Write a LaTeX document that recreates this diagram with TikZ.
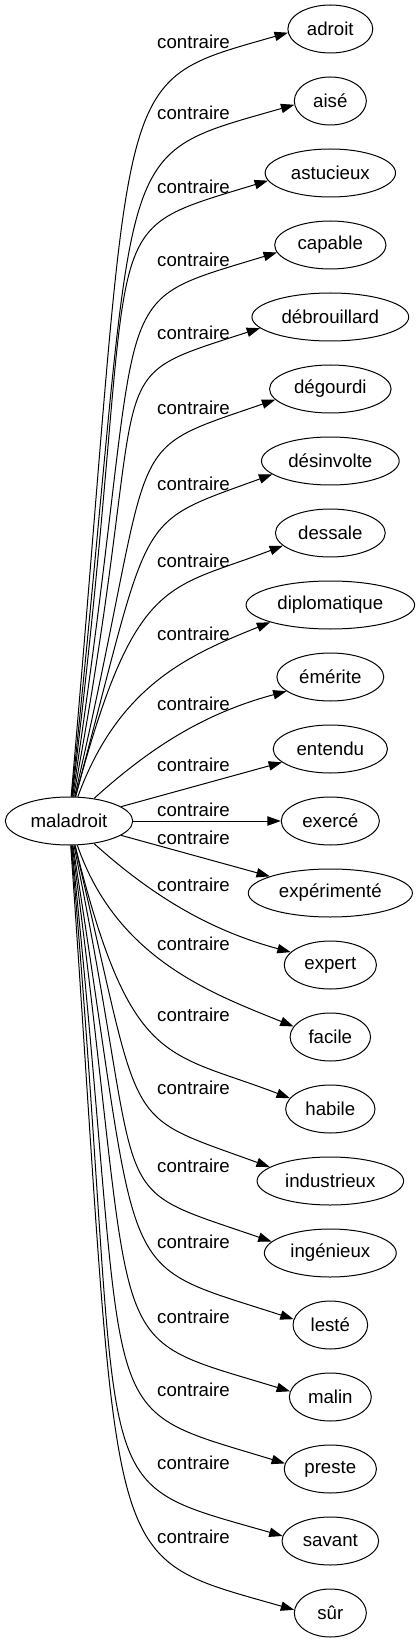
\documentclass[tikz,border=0pt]{standalone}
\usepackage{fontspec}
\setmainfont{Liberation Sans}
\usepackage{tikz}
\usetikzlibrary{shapes.geometric, arrows.meta, positioning}

\begin{document}
\begin{tikzpicture}[node distance=54pt,
    mot/.style={ellipse, draw, line width=0.75pt, inner xsep=5pt, inner ysep=2pt,
                minimum width=54pt, minimum height=36pt,
                font=\fontsize{14pt}{16pt}\selectfont},
    rel/.style={inner sep=0pt, font=\fontsize{14pt}{16pt}\selectfont},
    fleche/.style={line width=0.75pt, -{Triangle[length=10pt, width=7pt]}}]

\useasboundingbox (-51.75pt,-616.5pt) rectangle (261.75pt,615.75pt);

% Source word
\node[mot] (mal) at (0,0) {maladroit};

% Opposites, top to bottom
\node[mot] (adroit) at (196pt,594pt) {adroit};
\node[mot, below of=adroit] (aise) {aisé};
\node[mot, below of=aise] (astucieux) {astucieux};
\node[mot, below of=astucieux] (capable) {capable};
\node[mot, below of=capable] (debrouillard) {débrouillard};
\node[mot, below of=debrouillard] (degourdi) {dégourdi};
\node[mot, below of=degourdi] (desinvolte) {désinvolte};
\node[mot, below of=desinvolte] (dessale) {dessale};
\node[mot, below of=dessale] (diplomatique) {diplomatique};
\node[mot, below of=diplomatique] (emerite) {émérite};
\node[mot, below of=emerite] (entendu) {entendu};
\node[mot, below of=entendu] (exerce) {exercé};
\node[mot, below of=exerce] (experimente) {expérimenté};
\node[mot, below of=experimente] (expert) {expert};
\node[mot, below of=expert] (facile) {facile};
\node[mot, below of=facile] (habile) {habile};
\node[mot, below of=habile] (industrieux) {industrieux};
\node[mot, below of=industrieux] (ingenieux) {ingénieux};
\node[mot, below of=ingenieux] (leste) {lesté};
\node[mot, below of=leste] (malin) {malin};
\node[mot, below of=malin] (preste) {preste};
\node[mot, below of=preste] (savant) {savant};
\node[mot, below of=savant] (sur) {sûr};

% Edge labels
\node[rel] (r-adroit) at (93.4pt,584.25pt) {contraire};
\node[rel] (r-aise) at (93.4pt,531pt) {contraire};
\node[rel] (r-astucieux) at (93.4pt,475.5pt) {contraire};
\node[rel] (r-capable) at (93.4pt,420.75pt) {contraire};
\node[rel] (r-debrouillard) at (93.4pt,366pt) {contraire};
\node[rel] (r-degourdi) at (93.4pt,309.75pt) {contraire};
\node[rel] (r-desinvolte) at (93.4pt,252.75pt) {contraire};
\node[rel] (r-dessale) at (93.4pt,195pt) {contraire};
\node[rel] (r-diplomatique) at (93.4pt,140.25pt) {contraire};
\node[rel] (r-emerite) at (93.4pt,87.75pt) {contraire};
\node[rel] (r-entendu) at (93.4pt,42pt) {contraire};
\node[rel] (r-exerce) at (93.4pt,8.25pt) {contraire};
\node[rel] (r-experimente) at (93.4pt,-12.75pt) {contraire};
\node[rel] (r-expert) at (93.4pt,-48pt) {contraire};
\node[rel] (r-facile) at (93.4pt,-92.25pt) {contraire};
\node[rel] (r-habile) at (93.4pt,-145.5pt) {contraire};
\node[rel] (r-industrieux) at (93.4pt,-200.25pt) {contraire};
\node[rel] (r-ingenieux) at (93.4pt,-258.75pt) {contraire};
\node[rel] (r-leste) at (93.4pt,-315.75pt) {contraire};
\node[rel] (r-malin) at (93.4pt,-372pt) {contraire};
\node[rel] (r-preste) at (93.4pt,-426.75pt) {contraire};
\node[rel] (r-savant) at (93.4pt,-481.5pt) {contraire};
\node[rel] (r-sur) at (93.4pt,-537pt) {contraire};

% Edges going up
\draw[fleche] (mal) to[out=85, in=196, out distance=555pt, in distance=142.5pt] (adroit.185);
\draw[fleche] (mal) to[out=84, in=196, out distance=502.5pt, in distance=150pt] (aise.186);
\draw[fleche] (mal) to[out=83, in=197, out distance=450pt, in distance=146.25pt] (astucieux.187);
\draw[fleche] (mal) to[out=81.5, in=197, out distance=397.5pt, in distance=142.5pt] (capable.188);
\draw[fleche] (mal) to[out=79.5, in=198, out distance=341.25pt, in distance=135pt] (debrouillard.189);
\draw[fleche] (mal) to[out=77, in=199, out distance=285pt, in distance=127.5pt] (degourdi.191);
\draw[fleche] (mal) to[out=75, in=200, out distance=225pt, in distance=112.5pt] (desinvolte.193);
\draw[fleche] (mal) to[out=75, in=201, out distance=172.5pt, in distance=93.75pt] (dessale.195);
\draw[fleche] (mal) to[out=70, in=202, out distance=90pt, in distance=63.75pt] (diplomatique.196);
\draw[fleche] (mal) to[out=42, in=195, out distance=52.5pt, in distance=67.5pt] (emerite.198);

% Nearly straight ones
\draw[fleche] (mal) -- (entendu);
\draw[fleche] (mal) -- (exerce);
\draw[fleche] (mal) -- (experimente);

% Edges going down
\draw[fleche] (mal) to[out=-42, in=165, out distance=52.5pt, in distance=67.5pt] (expert.162);
\draw[fleche] (mal) to[out=-71, in=158, out distance=90pt, in distance=66pt] (facile.164);
\draw[fleche] (mal) to[out=-76, in=159, out distance=172.5pt, in distance=100pt] (habile.165);
\draw[fleche] (mal) to[out=-76.5, in=160, out distance=225pt, in distance=122pt] (industrieux.167);
\draw[fleche] (mal) to[out=-78.5, in=161, out distance=285pt, in distance=138pt] (ingenieux.169);
\draw[fleche] (mal) to[out=-81, in=162, out distance=341.25pt, in distance=146pt] (leste.171);
\draw[fleche] (mal) to[out=-82.5, in=163, out distance=397.5pt, in distance=154pt] (malin.172);
\draw[fleche] (mal) to[out=-84, in=163, out distance=450pt, in distance=158pt] (preste.173);
\draw[fleche] (mal) to[out=-85, in=164, out distance=502.5pt, in distance=162pt] (savant.174);
\draw[fleche] (mal) to[out=-86, in=164, out distance=555pt, in distance=155pt] (sur.175);

\end{tikzpicture}
\end{document}
